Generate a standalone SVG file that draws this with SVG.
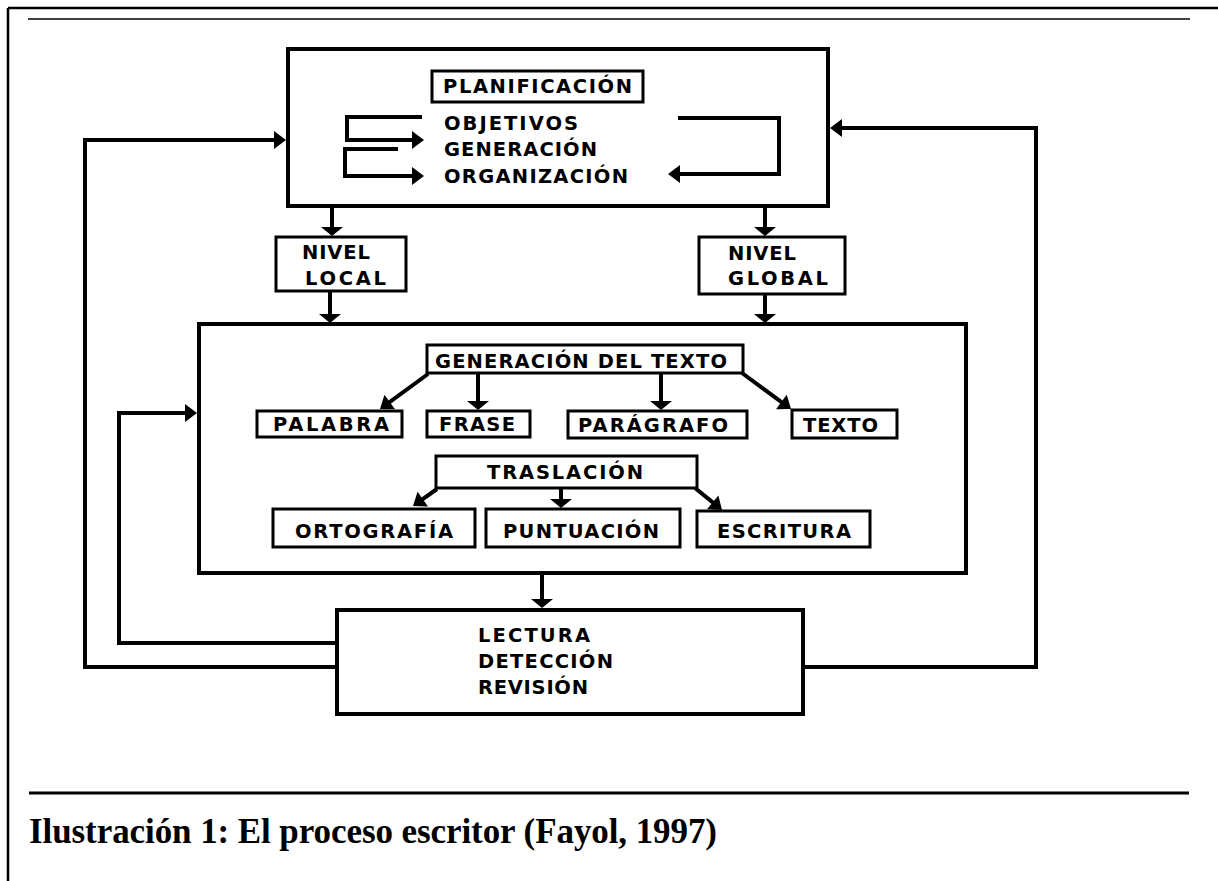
<svg xmlns="http://www.w3.org/2000/svg" width="1218" height="881" viewBox="0 0 1218 881">
<defs>
<style>
.frame{stroke:#000;fill:none}
.box{fill:#fff;stroke:#000;stroke-width:3}
.big{fill:none;stroke:#000;stroke-width:4}
.c{fill:none;stroke:#000;stroke-width:4;stroke-linejoin:miter}
.lbl{font-family:"DejaVu Sans","Liberation Sans",sans-serif;font-weight:bold;font-size:19.5px;fill:#000}
.cap{font-family:"Liberation Serif","Times New Roman",serif;font-weight:bold;font-size:35px;fill:#000}
</style>
<marker id="a" markerUnits="userSpaceOnUse" markerWidth="12" markerHeight="18" refX="4" refY="9" orient="auto" overflow="visible">
<path d="M0,0 L12,9 L0,18 Z" fill="#000"/>
</marker>
<marker id="ad" markerUnits="userSpaceOnUse" markerWidth="9" markerHeight="22" refX="3" refY="11" orient="auto" overflow="visible">
<path d="M0,0 L9,11 L0,22 Z" fill="#000"/>
</marker>
</defs>
<rect width="1218" height="881" fill="#fff"/>
<g id="page-frame">
<line class="frame" x1="8" y1="8" x2="1218" y2="8" stroke-width="2.5"/>
<line class="frame" x1="8" y1="8" x2="8" y2="881" stroke-width="2.5"/>
<line class="frame" x1="28" y1="19" x2="1190" y2="19" stroke-width="1.5"/>
<line class="frame" x1="29" y1="793" x2="1189" y2="793" stroke-width="3"/>
</g>

<g id="connectors">
<line class="c" x1="332" y1="206" x2="332" y2="230" marker-end="url(#ad)"/>
<line class="c" x1="765" y1="206" x2="765" y2="230" marker-end="url(#ad)"/>
<line class="c" x1="330" y1="291" x2="330" y2="317" marker-end="url(#ad)"/>
<line class="c" x1="765" y1="294" x2="765" y2="317" marker-end="url(#ad)"/>
<line class="c" x1="428" y1="374" x2="386.5" y2="404.3" marker-end="url(#a)"/>
<line class="c" x1="478" y1="373" x2="478" y2="404" marker-end="url(#ad)"/>
<line class="c" x1="661" y1="373" x2="661" y2="404" marker-end="url(#ad)"/>
<line class="c" x1="742" y1="373" x2="784.6" y2="404.3" marker-end="url(#a)"/>
<line class="c" x1="437" y1="489" x2="419.5" y2="501.4" marker-end="url(#a)"/>
<line class="c" x1="561" y1="488" x2="561" y2="502" marker-end="url(#ad)"/>
<line class="c" x1="695" y1="488" x2="715.8" y2="504.9" marker-end="url(#a)"/>
<line class="c" x1="542" y1="573" x2="542" y2="602" marker-end="url(#ad)"/>
<path class="c" d="M337,643 H119 V413 H189" marker-end="url(#a)"/>
<path class="c" d="M337,667 H85 V140 H278" marker-end="url(#a)"/>
<path class="c" d="M803,667 H1036 V128 H838" marker-end="url(#a)"/>
<path class="c" d="M422,117 H347 V140 H416" marker-end="url(#a)"/>
<path class="c" d="M398,149 H345 V176 H416" marker-end="url(#a)"/>
<path class="c" d="M678,118 H779 V174 H676" marker-end="url(#a)"/>
</g>

<g id="planificacion-block">
<rect class="big" x="288" y="49" width="540" height="157"/>
</g>
<g id="planificacion">
<rect class="box" x="432" y="71" width="211" height="31"/>
<text class="lbl" x="443" y="93" textLength="189" lengthAdjust="spacing">PLANIFICACIÓN</text>
</g>
<g id="objetivos"><text class="lbl" x="444" y="130" textLength="134" lengthAdjust="spacing">OBJETIVOS</text></g>
<g id="generacion"><text class="lbl" x="444" y="156" textLength="153" lengthAdjust="spacing">GENERACIÓN</text></g>
<g id="organizacion"><text class="lbl" x="444" y="183" textLength="184" lengthAdjust="spacing">ORGANIZACIÓN</text></g>

<g id="nivel-local">
<rect class="box" x="276" y="237" width="130" height="54"/>
<text class="lbl" x="302" y="259" textLength="68" lengthAdjust="spacing">NIVEL</text>
<text class="lbl" x="305" y="285" textLength="81" lengthAdjust="spacing">LOCAL</text>
</g>
<g id="nivel-global">
<rect class="box" x="699" y="237" width="146" height="57"/>
<text class="lbl" x="728" y="260" textLength="68" lengthAdjust="spacing">NIVEL</text>
<text class="lbl" x="728" y="285" textLength="100" lengthAdjust="spacing">GLOBAL</text>
</g>

<g id="texto-block">
<rect class="big" x="199" y="324" width="767" height="249"/>
</g>
<g id="generacion-texto">
<rect class="box" x="427" y="345" width="316" height="28"/>
<text class="lbl" x="435" y="368" textLength="292" lengthAdjust="spacing">GENERACIÓN DEL TEXTO</text>
</g>
<g id="palabra">
<rect class="box" x="257" y="411" width="145" height="26"/>
<text class="lbl" x="273" y="431" textLength="116" lengthAdjust="spacing">PALABRA</text>
</g>
<g id="frase">
<rect class="box" x="427" y="411" width="103" height="26"/>
<text class="lbl" x="439" y="431" textLength="76" lengthAdjust="spacing">FRASE</text>
</g>
<g id="paragrafo">
<rect class="box" x="568" y="411" width="179" height="27"/>
<text class="lbl" x="578" y="432" textLength="150" lengthAdjust="spacing">PARÁGRAFO</text>
</g>
<g id="texto">
<rect class="box" x="792" y="410" width="105" height="28"/>
<text class="lbl" x="803" y="432" textLength="75" lengthAdjust="spacing">TEXTO</text>
</g>
<g id="traslacion">
<rect class="box" x="436" y="456" width="261" height="32"/>
<text class="lbl" x="487" y="479" textLength="156" lengthAdjust="spacing">TRASLACIÓN</text>
</g>
<g id="ortografia">
<rect class="box" x="273" y="509" width="202" height="38"/>
<text class="lbl" x="295" y="538" textLength="158" lengthAdjust="spacing">ORTOGRAFÍA</text>
</g>
<g id="puntuacion">
<rect class="box" x="486" y="509" width="194" height="38"/>
<text class="lbl" x="503" y="538" textLength="156" lengthAdjust="spacing">PUNTUACIÓN</text>
</g>
<g id="escritura">
<rect class="box" x="697" y="511" width="173" height="36"/>
<text class="lbl" x="717" y="538" textLength="134" lengthAdjust="spacing">ESCRITURA</text>
</g>

<g id="revision-block">
<rect class="big" x="337" y="610" width="466" height="104"/>
<text class="lbl" x="478" y="642" textLength="112" lengthAdjust="spacing">LECTURA</text>
<text class="lbl" x="478" y="668" textLength="135" lengthAdjust="spacing">DETECCIÓN</text>
<text class="lbl" x="478" y="694" textLength="110" lengthAdjust="spacing">REVISIÓN</text>
</g>

<g id="caption">
<text class="cap" x="29" y="843" textLength="688" lengthAdjust="spacing">Ilustración 1: El proceso escritor (Fayol, 1997)</text>
</g>
</svg>
